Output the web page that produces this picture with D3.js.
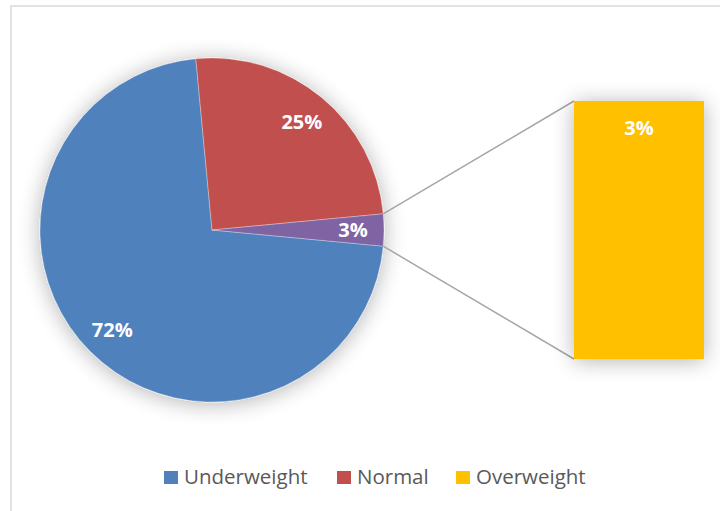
<!DOCTYPE html>
<html>
<head>
<meta charset="utf-8">
<script src="https://cdn.jsdelivr.net/npm/d3@7/dist/d3.min.js"></script>
<style>
  html, body { margin: 0; padding: 0; background: #fff; }
  svg { display: block; }
</style>
</head>
<body>
<svg id="chart" width="720" height="511"></svg>
<script>
// ---- data ----
const categories = ["Underweight", "Normal", "Overweight"];
const values = [72, 25, 3];
const pieLabels = ["72%", "25%", "3%"];
const barLabels = ["3%"];
const pieColors = ["#4F81BD", "#C0504D", "#8064A2"];
const legendColors = ["#4F81BD", "#C0504D", "#FFC000"];
const barColor = "#FFC000";

const svg = d3.select("#chart");

// filter for soft shadow
const defs = svg.append("defs");
const f = defs.append("filter").attr("id", "shadow")
  .attr("x", "-30%").attr("y", "-30%").attr("width", "160%").attr("height", "160%");
f.append("feGaussianBlur").attr("in", "SourceAlpha").attr("stdDeviation", 11).attr("result", "b");
f.append("feOffset").attr("in", "b").attr("dx", 0).attr("dy", 2).attr("result", "o");
f.append("feComponentTransfer").attr("in", "o").attr("result", "s")
  .append("feFuncA").attr("type", "linear").attr("slope", 0.3);
const m = f.append("feMerge");
m.append("feMergeNode").attr("in", "s");
m.append("feMergeNode").attr("in", "SourceGraphic");

// chart border
svg.append("rect")
  .attr("x", 11).attr("y", 6).attr("width", 730).attr("height", 530)
  .attr("fill", "#fff").attr("stroke", "#D9D9D9").attr("stroke-width", 1.5);

// ---- pie ----
const cx = 212, cy = 230, R = 172;
const otherFrac = values[2] / d3.sum(values);
const a0 = Math.PI / 2 + otherFrac * Math.PI;
const pie = d3.pie().sort(null).startAngle(a0).endAngle(a0 + 2 * Math.PI);
const arcs = pie(values);
const arc = d3.arc().innerRadius(0).outerRadius(R);
const labelArc = d3.arc().innerRadius(141).outerRadius(141);

const gPie = svg.append("g").attr("transform", `translate(${cx},${cy})`);
gPie.append("g").attr("filter", "url(#shadow)")
  .selectAll("path").data(arcs).join("path")
  .attr("d", arc)
  .attr("fill", (d, i) => pieColors[i])
  .attr("stroke", "#fff").attr("stroke-width", 0.6).attr("stroke-opacity", 0.5);

gPie.selectAll("text").data(arcs).join("text")
  .attr("transform", d => `translate(${labelArc.centroid(d)})`)
  .attr("text-anchor", "middle").attr("dy", "0.36em")
  .attr("font-family", "'Open Sans', sans-serif").attr("font-weight", "bold")
  .attr("font-size", 20).attr("fill", "#fff")
  .text((d, i) => pieLabels[i]);

// ---- bar ----
const x = d3.scaleBand().domain([categories[2]]).range([574, 704]).padding(0);
const y = d3.scaleLinear().domain([0, values[2]]).range([359, 101]);

// connectors
const oa = arcs[2];
const pt = a => [cx + R * Math.sin(a), cy - R * Math.cos(a)];
const p1 = pt(oa.startAngle), p2 = pt(oa.endAngle);
const connectors = [
  [p1, [x(categories[2]), y(values[2])]],
  [p2, [x(categories[2]), y(0)]]
];
svg.append("g").selectAll("line").data(connectors).join("line")
  .attr("x1", d => d[0][0]).attr("y1", d => d[0][1])
  .attr("x2", d => d[1][0]).attr("y2", d => d[1][1])
  .attr("stroke", "#A6A6A6").attr("stroke-width", 1.5);

svg.append("g").attr("filter", "url(#shadow)")
  .selectAll("rect").data([values[2]]).join("rect")
  .attr("x", x(categories[2])).attr("width", x.bandwidth())
  .attr("y", d => y(d)).attr("height", d => y(0) - y(d))
  .attr("fill", barColor);

svg.append("text")
  .attr("x", x(categories[2]) + x.bandwidth() / 2).attr("y", y(values[2]) + 27)
  .attr("text-anchor", "middle").attr("dy", "0.36em")
  .attr("font-family", "'Open Sans', sans-serif").attr("font-weight", "bold")
  .attr("font-size", 20).attr("fill", "#fff")
  .text(barLabels[0]);

// ---- legend ----
const legendX = [164, 337, 456];
const lg = svg.append("g");
const items = lg.selectAll("g").data(categories).join("g")
  .attr("transform", (d, i) => `translate(${legendX[i]},471)`);
items.append("rect").attr("width", 14).attr("height", 13)
  .attr("fill", (d, i) => legendColors[i]);
items.append("text").attr("x", 20).attr("y", 13)
  .attr("font-family", "'Open Sans', sans-serif").attr("font-size", 20.5)
  .attr("fill", "#595959").text(d => d);
</script>
</body>
</html>
